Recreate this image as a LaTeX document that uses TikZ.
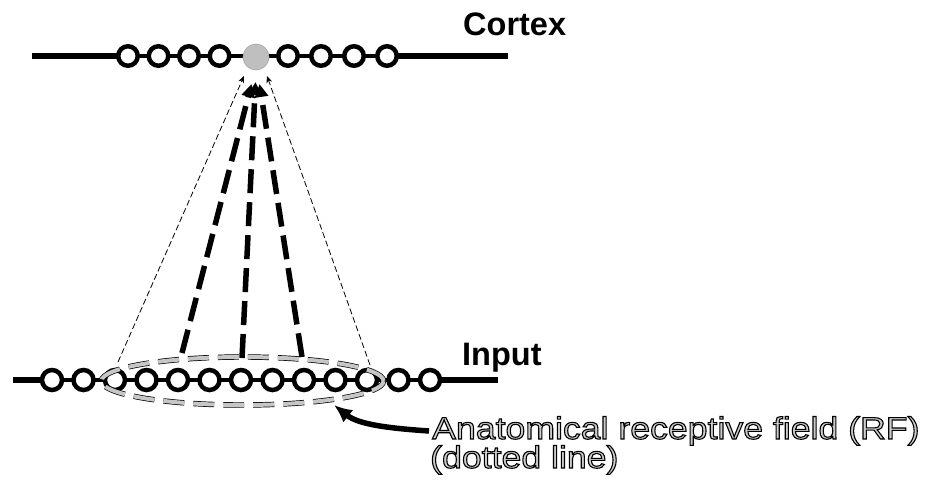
\documentclass[tikz,border=0pt]{standalone}
\usepackage{fontspec}
\setmainfont{Liberation Sans}
\newfontfamily\annfont[FakeStretch=1.15]{Liberation Sans}
\usetikzlibrary{arrows.meta,shapes.geometric}
\pgfdeclarelayer{background}
\pgfsetlayers{background,main}
\newcommand{\outlinedtxt}[1]{\special{pdf:literal direct 2 Tr 1.1 w 0 G}#1\special{pdf:literal direct 0 Tr}}
\begin{document}
\begin{tikzpicture}[x=1pt,y=-1pt,
  ccell/.style={circle, draw=black, fill=white, line width=4.5pt, minimum size=19.5pt, inner sep=0pt},
  icell/.style={circle, draw=black, fill=white, line width=4.5pt, minimum size=20pt, inner sep=0pt},
  active/.style={circle, draw=gray!70, fill=gray!50, line width=0.6pt, minimum size=26pt, inner sep=0pt},
  outerline/.style={line width=6.5pt},
  innerline/.style={line width=4pt},
  rfline/.style={draw=black, line width=0.7pt, double=gray!45, double distance=4pt, dash pattern=on 21pt off 9pt},
  thickproj/.style={line width=5.5pt, dash pattern=on 24pt off 9pt, -{Triangle[length=13pt,width=13pt]}},
  thinproj/.style={line width=0.8pt, dash pattern=on 6pt off 3pt, -{Stealth[length=7pt,width=6pt]}},
  labelbold/.style={anchor=base west, inner sep=0pt, font=\fontsize{32.5}{39}\selectfont\bfseries},
  anntext/.style={anchor=base west, inner sep=0pt, font=\annfont\fontsize{31}{29}\selectfont, text=gray!40},
  bigarrow/.style={line width=5.5pt, -{Latex[length=18pt,width=16pt]}}
]
\useasboundingbox (0,0) rectangle (929,482);

% Cortex layer
\coordinate (cL) at (32,56);
\coordinate (cR) at (508,56);
\node[ccell] (c1) at (128,56) {};
\node[ccell] (c2) at (158.5,56) {};
\node[ccell] (c3) at (189,56) {};
\node[ccell] (c4) at (219.5,56) {};
\node[active] (g) at (256,57) {};
\node[ccell] (c6) at (288,56) {};
\node[ccell] (c7) at (321,56) {};
\node[ccell] (c8) at (354,56) {};
\node[ccell] (c9) at (387,56) {};
\begin{pgfonlayer}{background}
\draw[outerline] (cL) -- (c1.center);
\draw[outerline] (c9.center) -- (cR);
\draw[innerline] (c1.center) -- (c9.center);
\end{pgfonlayer}
\node[labelbold] (cortex) at (463,35) {Cortex};

% Input layer
\coordinate (iL) at (13,380);
\coordinate (iR) at (498,380);
\foreach \k in {1,...,13} {
  \node[icell] (i\k) at ({52+31.5*(\k-1)},380) {};
}
\begin{pgfonlayer}{background}
\draw[outerline] (iL) -- (i1.center);
\draw[outerline] (i13.center) -- (iR);
\draw[innerline] (i1.center) -- (i13.center);
\end{pgfonlayer}
\node[labelbold] (input) at (462,365) {Input};

% Anatomical receptive field
\node[ellipse, rfline, minimum width=282pt, minimum height=48pt, inner sep=0pt] (rf) at (242.5,381) {};

% Projections
\coordinate (a1) at (182,353);
\coordinate (a2) at (242,358);
\coordinate (a3) at (302,357);
\coordinate (b1) at (251.5,84);
\coordinate (b2) at (255.5,82);
\coordinate (b3) at (259.5,84);
\draw[thickproj] (a1) -- (b1);
\draw[thickproj] (a2) -- (b2);
\draw[thickproj] (a3) -- (b3);
\coordinate (l1) at (118,362);
\coordinate (l2) at (244,76);
\coordinate (r1) at (370,365);
\coordinate (r2) at (267,76);
\draw[thinproj] (l1) -- (l2);
\draw[thinproj] (r1) -- (r2);

% Annotation
\node[anntext] (ann1) at (432,439) {\outlinedtxt{Anatomical receptive field (RF)}};
\node[anntext] (ann2) at (430,468) {\outlinedtxt{(dotted line)}};
\coordinate (tail) at (429,431);
\coordinate (tip) at (334,405);
\draw[bigarrow] (tail) .. controls (385,428) and (358,424) .. (tip);
\end{tikzpicture}
\end{document}
